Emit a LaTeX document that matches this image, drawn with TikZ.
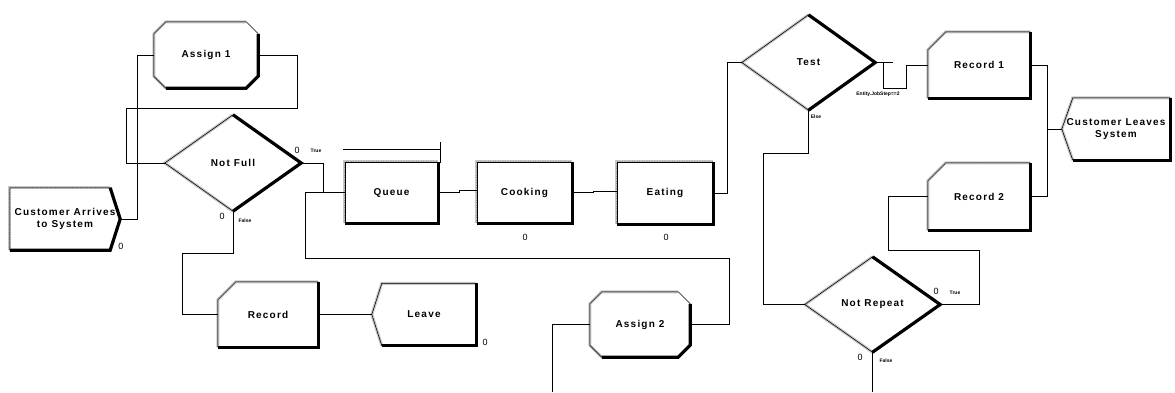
\documentclass[tikz,border=0pt]{standalone}
\usepackage{fontspec}
\setmainfont{Liberation Sans}
\newfontfamily\mylblfamily[LetterSpace=12]{Liberation Sans}
\usetikzlibrary{calc}
\newcommand\mymodfont{\mylblfamily\bfseries\fontsize{10}{12}\selectfont}
\newcommand\myzerofont{\fontsize{9}{9}\selectfont}
\newcommand\mytinyfont{\bfseries\fontsize{5}{6}\selectfont}
\tikzset{
  mod/.style={draw=none, inner sep=0pt, align=center, font=\mymodfont},
  bev/.style={draw=gray!45, line width=3pt, line join=miter,
    postaction={draw=gray!85, line width=0.8pt, dash pattern=on 1pt off 1.5pt}},
  shad/.style={draw=black, line width=3.2pt, line join=miter},
  outl/.style={draw=black, line width=0.5pt, line join=miter},
  conn/.style={draw=black, line width=0.8pt},
  zero/.style={font=\myzerofont, inner sep=0pt},
  tinylbl/.style={font=\mytinyfont, inner sep=0pt},
}
% plain process box
\newcommand\decoRect[1]{%
  \draw[bev] (#1.south west) -- (#1.north west) -- (#1.north east);
  \draw[shad] (#1.north east) -- (#1.south east) -- (#1.south west);
  \draw[outl] (#1.south west) rectangle (#1.north east);}
% octagon (assign)
\newcommand\decoOct[2]{%
  \coordinate (#1-a) at ($(#1.north west)+(#2,0)$);
  \coordinate (#1-b) at ($(#1.north east)+(-#2,0)$);
  \coordinate (#1-c) at ($(#1.north east)+(0,#2)$);
  \coordinate (#1-d) at ($(#1.south east)+(0,-#2)$);
  \coordinate (#1-e) at ($(#1.south east)+(-#2,0)$);
  \coordinate (#1-f) at ($(#1.south west)+(#2,0)$);
  \coordinate (#1-g) at ($(#1.south west)+(0,-#2)$);
  \coordinate (#1-h) at ($(#1.north west)+(0,#2)$);
  \draw[bev] (#1-f) -- (#1-g) -- (#1-h) -- (#1-a) -- (#1-b);
  \draw[shad] (#1-c) -- (#1-d) -- (#1-e) -- (#1-f);
  \draw[outl] (#1-a) -- (#1-b) -- (#1-c) -- (#1-d) -- (#1-e) -- (#1-f) -- (#1-g) -- (#1-h) -- cycle;}
% record (top-left corner cut)
\newcommand\decoRec[2]{%
  \coordinate (#1-a) at ($(#1.north west)+(#2,0)$);
  \coordinate (#1-h) at ($(#1.north west)+(0,#2)$);
  \draw[bev] (#1.south west) -- (#1-h) -- (#1-a) -- (#1.north east);
  \draw[shad] (#1.north east) -- (#1.south east) -- (#1.south west);
  \draw[outl] (#1-a) -- (#1.north east) -- (#1.south east) -- (#1.south west) -- (#1-h) -- cycle;}
% create (point to the right)
\newcommand\decoCreate[2]{%
  \coordinate (#1-a) at ($(#1.north east)+(-#2,0)$);
  \coordinate (#1-b) at ($(#1.south east)+(-#2,0)$);
  \draw[bev] (#1.south west) -- (#1.north west) -- (#1-a);
  \draw[shad] (#1-a) -- (#1.east) -- (#1-b) -- (#1.south west);
  \draw[outl] (#1.north west) -- (#1-a) -- (#1.east) -- (#1-b) -- (#1.south west) -- cycle;}
% dispose (notch pointing left)
\newcommand\decoDispose[2]{%
  \coordinate (#1-a) at ($(#1.north west)+(#2,0)$);
  \coordinate (#1-b) at ($(#1.south west)+(#2,0)$);
  \draw[bev] (#1-b) -- (#1.west) -- (#1-a) -- (#1.north east);
  \draw[shad] (#1.north east) -- (#1.south east) -- (#1-b);
  \draw[outl] (#1.west) -- (#1-a) -- (#1.north east) -- (#1.south east) -- (#1-b) -- cycle;}
% decision diamond
\newcommand\decoDia[1]{%
  \draw[bev] (#1.south) -- (#1.west) -- (#1.north);
  \draw[shad] (#1.north) -- (#1.east) -- (#1.south);
  \draw[outl] (#1.west) -- (#1.north) -- (#1.east) -- (#1.south) -- cycle;}

\begin{document}
\begin{tikzpicture}[x=1pt,y=-1pt]
\useasboundingbox (0,0) rectangle (1175,392);

% modules
\node[mod, minimum width=110pt, minimum height=62pt] (arrive) at (65,219) {Customer Arrives\\to System};
\node[mod, minimum width=104pt, minimum height=66pt] (assign1) at (206,55) {Assign 1};
\node[mod, minimum width=136pt, minimum height=96pt] (notfull) at (233,163) {Not Full};
\node[mod, minimum width=93pt, minimum height=61pt] (queue) at (391.5,192.5) {Queue};
\node[mod, minimum width=95pt, minimum height=61pt] (cooking) at (524.5,192.5) {Cooking};
\node[mod, minimum width=96pt, minimum height=62pt] (eating) at (665,193) {Eating};
\node[mod, minimum width=133pt, minimum height=95pt] (test) at (808.5,62.5) {Test};
\node[mod, minimum width=102pt, minimum height=66pt] (record1) at (979,65) {Record 1};
\node[mod, minimum width=102pt, minimum height=67pt] (record2) at (979,196.5) {Record 2};
\node[mod, minimum width=108pt, minimum height=62pt] (leaves) at (1116,129) {Customer Leaves\\System};
\node[mod, minimum width=135pt, minimum height=95pt] (notrepeat) at (872.5,304.5) {Not Repeat};
\node[mod, minimum width=100pt, minimum height=65pt] (assign2) at (640,324.5) {Assign 2};
\node[mod, minimum width=100pt, minimum height=65pt] (record) at (268,314.5) {Record};
\node[mod, minimum width=104pt, minimum height=62pt] (leave) at (424,314.5) {Leave};

\decoCreate{arrive}{10}
\decoOct{assign1}{12}
\decoDia{notfull}
\decoRect{queue}
\decoRect{cooking}
\decoRect{eating}
\decoDia{test}
\decoRec{record1}{18}
\decoRec{record2}{18}
\decoDispose{leaves}{11}
\decoDia{notrepeat}
\decoOct{assign2}{12}
\decoRec{record}{18}
\decoDispose{leave}{10}

% queue symbol
\draw[conn] ($(queue.north west)+(-2,-12)$) -- ($(queue.north east)+(2,-12)$);
\draw[conn] ($(queue.north east)+(2,-20)$) -- ($(queue.north east)+(2,1)$);

% counters and branch labels
\node[zero] (z1) at (121,246) {0};
\node[zero] (z2) at (525,237) {0};
\node[zero] (z3) at (666,237) {0};
\node[zero] (z4) at (485,342) {0};
\node[zero] (z5) at (297,150) {0};
\node[zero] (z6) at (222,216) {0};
\node[zero] (z7) at (936,291) {0};
\node[zero] (z8) at (860,357) {0};
\node[tinylbl] (t1) at (316,151) {True};
\node[tinylbl] (t2) at (245,221) {False};
\node[tinylbl] (t3) at (955,293) {True};
\node[tinylbl] (t4) at (886,361) {False};
\node[tinylbl] (t5) at (816,117) {Else};
\node[tinylbl] (t6) at (878,94) {Entity.JobStep==2};

% connectors
\draw[conn] (arrive.east) -- ++(17,0) |- (assign1.west);
\draw[conn] (assign1.east) -| (297,108) -| (126,163) -- (notfull.west);
\draw[conn] (notfull.east) -| (323,192.5) -- (queue.west);
\draw[conn] (assign2.east) -| (729,258) -| (305,192.5) -- (queue.west);
\draw[conn] (queue.east) -- ++(21,0) |- ($(cooking.west)+(0,-2)$);
\draw[conn] (cooking.east) -- ++(21,0) |- ($(eating.west)+(0,-2)$);
\draw[conn] (eating.east) -| (727,62.5) -- (test.west);
\draw[conn] (test.east) -- ++(18,0);
\draw[conn] ($(test.east)+(8,0)$) |- (906,88) |- (record1.west);
\draw[conn] (test.south) |- (763,153) |- (notrepeat.west);
\draw[conn] (notrepeat.east) -| (979,250) -| (888,196.5) -- (record2.west);
\coordinate (bot1) at (872.5,392);
\coordinate (bot2) at (552,392);
\draw[conn] (notrepeat.south) -- (bot1);
\draw[conn] (bot2) |- (assign2.west);
\draw[conn] (record1.east) -| (1047,129) -- (leaves.west);
\draw[conn] (record2.east) -| (1047,129);
\draw[conn] (notfull.south) |- (182,253) |- (record.west);
\draw[conn] (record.east) -- (leave.west);
\end{tikzpicture}
\end{document}
